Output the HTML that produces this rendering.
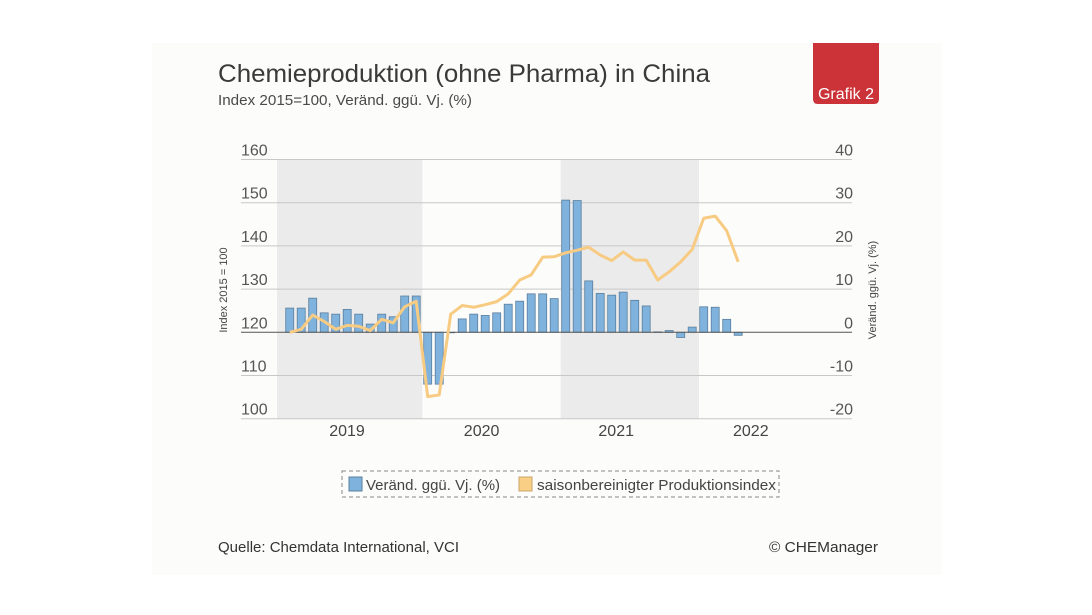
<!DOCTYPE html>
<html><head><meta charset="utf-8">
<style>
body{margin:0;width:1092px;height:615px;background:#fff;font-family:"Liberation Sans",sans-serif;overflow:hidden}
#panel{position:absolute;left:152px;top:43px;width:790px;height:532px;background:#fcfcfb}
</style></head><body>
<div id="panel"></div>
<svg width="1092" height="615" style="position:absolute;left:0;top:0" font-family="Liberation Sans, sans-serif">
<text x="218" y="82" font-size="25" fill="#3a3a3a" textLength="492" lengthAdjust="spacingAndGlyphs">Chemieproduktion (ohne Pharma) in China</text>
<text x="218" y="105" font-size="15" fill="#4a4a4a" textLength="254" lengthAdjust="spacingAndGlyphs">Index 2015=100, Veränd. ggü. Vj. (%)</text>
<path d="M813 43 H879 V99 Q879 104 874 104 H818 Q813 104 813 99 Z" fill="#cc3339"/>
<text x="846" y="99" font-size="16" fill="#fff" text-anchor="middle">Grafik 2</text>
<g id="plot"></g>
<text transform="translate(227,290) rotate(-90)" font-size="11" fill="#444" text-anchor="middle">Index 2015 = 100</text>
<text transform="translate(876,290) rotate(-90)" font-size="11" fill="#444" text-anchor="middle">Veränd. ggü. Vj. (%)</text>
<rect x="342" y="471" width="437" height="26" fill="none" stroke="#888" stroke-dasharray="4,3"/>
<rect x="349" y="477" width="13" height="14" fill="#7fb2dc" stroke="#5a7f9e"/>
<text x="366" y="490" font-size="15" fill="#444" textLength="134" lengthAdjust="spacingAndGlyphs">Veränd. ggü. Vj. (%)</text>
<rect x="519" y="477" width="13" height="14" fill="#f8cf85" stroke="#c9a66a"/>
<text x="537" y="490" font-size="15" fill="#444" textLength="239" lengthAdjust="spacingAndGlyphs">saisonbereinigter Produktionsindex</text>
<text x="218" y="552" font-size="15" fill="#333" textLength="241" lengthAdjust="spacingAndGlyphs">Quelle: Chemdata International, VCI</text>
<text x="769" y="552" font-size="15" fill="#333" textLength="109" lengthAdjust="spacingAndGlyphs">© CHEManager</text>
</svg>
<script>
const years=["2019","2020","2021","2022"];
const leftTicks=[100,110,120,130,140,150,160];
const rightTicks=["-20","-10","0","10","20","30","40"];
const changeValues=[5.6,5.6,7.9,4.5,4.2,5.3,4.2,1.9,4.2,3.6,8.4,8.4,
 -12,-12,0,3.1,4.2,3.9,4.5,6.5,7.2,8.9,8.9,7.8,
 30.6,30.5,11.9,9.0,8.6,9.3,7.4,6.1,0.1,0.4,-1.2,1.2,
 5.9,5.8,3.0,-0.7];
const indexValues=[120,120.7,124,122.5,120.7,121.6,121.4,120.4,123,122.2,125.9,127.2,
 105.1,105.5,124.2,126.2,125.8,126.4,127.1,128.9,132.1,133.3,137.4,137.5,
 138.4,139,139.7,137.9,136.6,138.6,136.7,136.7,132.1,134,136.3,139.2,
 146.4,146.9,143.5,136.3];
const NS="http://www.w3.org/2000/svg";
const g=document.getElementById('plot');
function yL(v){return 332.3-(v-120)*4.32;}
function yR(v){return 332.3-v*4.32;}
function xI(i){return 289.7+11.5*i;}
function mk(t,a){const e=document.createElementNS(NS,t);for(const k in a)e.setAttribute(k,a[k]);g.appendChild(e);return e;}
[[277,422.3],[560.7,699]].forEach(function(s){
 const r=mk('rect',{x:s[0],y:yL(160),width:s[1]-s[0],height:yL(100)-yL(160),fill:'#ebebeb'});
 
 
});
leftTicks.forEach(function(v,k){
 const y=yL(v);
 if(v!==120){const l=mk('line',{x1:241,x2:852,y1:y,y2:y,stroke:'#c8c8c8','stroke-width':1});
 
 }
 const t=mk('text',{x:241,y:y-4,'font-size':16,fill:'#555'});t.textContent=v;
 
 
 const t2=mk('text',{x:853,y:y-4,'font-size':16,fill:'#555','text-anchor':'end'});t2.textContent=rightTicks[k];
 
 
});
changeValues.forEach(function(v,i){
 const y0=yR(0),y1=yR(v);
 const r=mk('rect',{x:xI(i)-4,y:Math.min(y0,y1),width:8,height:Math.max(0.5,Math.abs(y1-y0)),fill:'#7fb2dc',stroke:'#5a7f9e','stroke-width':0.8});
 
 
});
const base=mk('line',{x1:241,x2:852,y1:yR(0),y2:yR(0),stroke:'#555','stroke-width':1});


const pts=indexValues.map(function(v,i){return xI(i)+','+yL(v);}).join(' ');
const pl=mk('polyline',{points:pts,fill:'none',stroke:'#f8cb82','stroke-width':3,'stroke-linejoin':'round'});


years.forEach(function(y,k){
 const t=mk('text',{x:347+134.6*k,y:436,'font-size':16,fill:'#444','text-anchor':'middle'});t.textContent=y;
 
 
});
</script>
</body></html>
